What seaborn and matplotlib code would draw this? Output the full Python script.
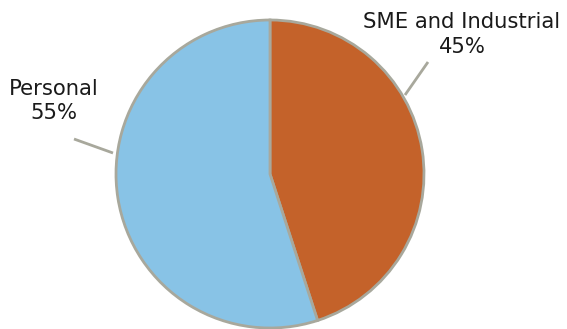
import matplotlib
matplotlib.use("Agg")
import matplotlib.pyplot as plt
import seaborn as sns

sns.set_theme(style="white")
plt.rcParams['font.family'] = ['DejaVu Sans']

categories = ["SME and Industrial", "Personal"]
values = [45, 55]
pct_labels = ["45%", "55%"]
colors = ["#C4622A", "#88C3E6"]

W, H = 567, 329
fig = plt.figure(figsize=(W / 100, H / 100), dpi=100)
ax = fig.add_axes([0, 0, 1, 1])

cx, cy, r = 270, H - 174, 154
ax.pie(values, colors=colors, startangle=90, counterclock=False,
       center=(cx, cy), radius=r, frame=True,
       wedgeprops=dict(edgecolor="#A8A89C", linewidth=2))
ax.set_xlim(0, W)
ax.set_ylim(0, H)
ax.set_aspect("equal")
ax.axis("off")

line_col = "#A8A89C"
# SME leader line
ax.plot([428, 405], [H - 62, H - 95], color=line_col, lw=2, solid_capstyle="butt")
# Personal leader line
ax.plot([74, 113], [H - 139, H - 153], color=line_col, lw=2, solid_capstyle="butt")

fs = 15.2
tc = "#1a1a1a"
ax.text(462, H - 22, categories[0], ha="center", va="center", fontsize=fs, color=tc)
ax.text(462, H - 47, pct_labels[0], ha="center", va="center", fontsize=fs, color=tc)
ax.text(54, H - 89, categories[1], ha="center", va="center", fontsize=fs, color=tc)
ax.text(54, H - 113, pct_labels[1], ha="center", va="center", fontsize=fs, color=tc)

fig.savefig("out.png", dpi=100)
